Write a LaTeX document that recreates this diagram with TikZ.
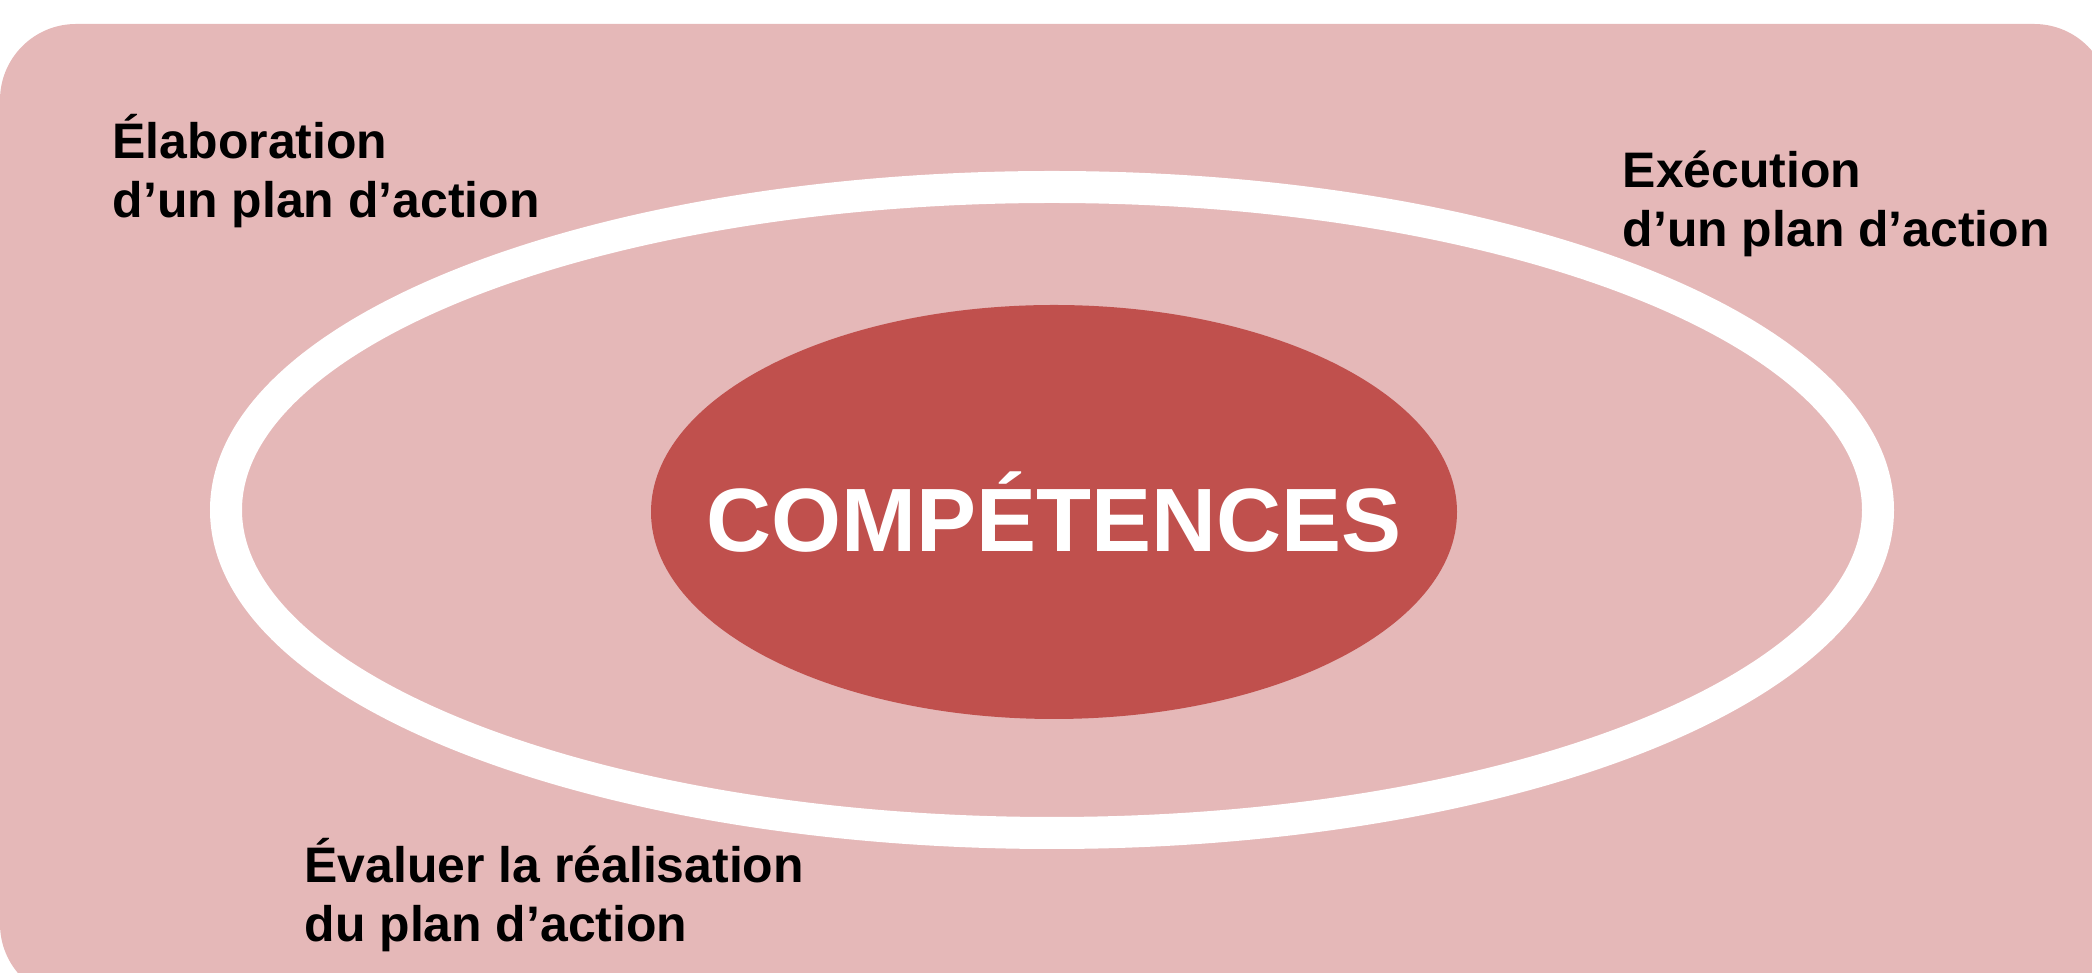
\documentclass[tikz,border=0pt]{standalone}
\usepackage{fontspec}
\setmainfont{Liberation Sans}
\usepackage{tikz}
\usetikzlibrary{shapes.geometric}
\definecolor{mypink}{HTML}{E5B8B8}
\definecolor{myred}{HTML}{C0504D}

\begin{document}
\begin{tikzpicture}[
  ring node/.style={ellipse,draw=white,line width=3.2mm,inner sep=0pt},
  core node/.style={ellipse,fill=myred,inner sep=0pt},
  core text/.style={text=white,inner sep=0pt,
    font=\bfseries\fontsize{25.6}{30}\selectfont},
  step node/.style={anchor=base west,align=left,inner sep=0pt,
    font=\bfseries\fontsize{14.2}{16.9}\selectfont}]

\useasboundingbox (0,0) rectangle (20.92,9.73);
\fill[mypink,rounded corners=0.76cm] (0,-0.27) rectangle (21.1,9.49);

\node[ring node,minimum width=16.52cm,minimum height=6.46cm] (ring) at (10.52,4.63) {};
\node[core node,minimum width=8.06cm,minimum height=4.14cm] (comp) at (10.54,4.61) {};
\node[core text] (comptext) at (comp.center) {COMPÉTENCES};

\node[step node] (elab) at (1.12,7.55) {Élaboration\\d’un plan d’action};
\node[step node] (exec) at (16.22,7.26) {Exécution\\d’un plan d’action};
\node[step node] (eval) at (3.04,0.31) {Évaluer la réalisation\\du plan d’action};

\end{tikzpicture}
\end{document}
